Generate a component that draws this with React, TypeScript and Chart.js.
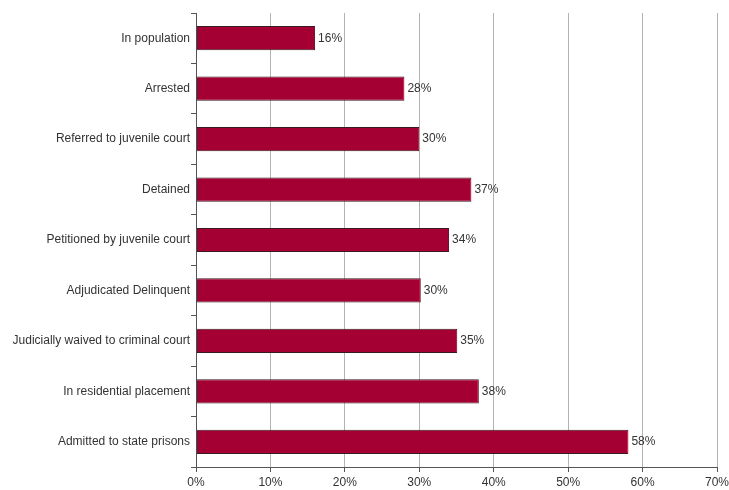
import React, { useEffect, useRef } from "react";
import { Chart, registerables } from "chart.js";

Chart.register(...registerables);

const categories = [
  "In population",
  "Arrested",
  "Referred to juvenile court",
  "Detained",
  "Petitioned by juvenile court",
  "Adjudicated Delinquent",
  "Judicially waived to criminal court",
  "In residential placement",
  "Admitted to state prisons",
];
const values = [16, 28, 30, 37, 34, 30.2, 35.1, 38, 58.1];
const valueLabels = ["16%", "28%", "30%", "37%", "34%", "30%", "35%", "38%", "58%"];

const FONT = "'Liberation Sans', Arial, sans-serif";

const labelPlugin = {
  id: "valueLabels",
  afterDatasetsDraw(chart: any) {
    const ctx = chart.ctx;
    const meta = chart.getDatasetMeta(0);
    ctx.save();
    ctx.font = "12px " + FONT;
    ctx.fillStyle = "#333333";
    ctx.textAlign = "left";
    ctx.textBaseline = "middle";
    meta.data.forEach((bar: any, i: number) => {
      ctx.fillText(valueLabels[i], bar.x + 3, bar.y);
    });
    ctx.restore();
  },
};

export default function App() {
  const ref = useRef<HTMLCanvasElement>(null);
  useEffect(() => {
    if (!ref.current) return;
    const chart = new Chart(ref.current, {
      type: "bar",
      data: {
        labels: categories,
        datasets: [
          {
            data: values,
            backgroundColor: "#A50034",
            borderColor: "#3a1a1f",
            borderWidth: 1,
            barPercentage: 0.48,
            categoryPercentage: 1,
          },
        ],
      },
      options: {
        indexAxis: "y",
        animation: false,
        responsive: false,
        maintainAspectRatio: false,
        layout: { padding: { top: 13, right: 0, left: 0, bottom: 0 } },
        plugins: { legend: { display: false }, tooltip: { enabled: false } },
        scales: {
          x: {
            min: 0,
            max: 70,
            ticks: {
              stepSize: 10,
              color: "#333333",
              font: { family: FONT, size: 12 },
              padding: 3,
              callback: (v: any) => v + "%",
            },
            grid: {
              color: "#b4b4b4",
              lineWidth: 1,
              tickLength: 5,
              drawTicks: true,
              tickColor: "#555555",
            },
            border: { color: "#555555", width: 1 },
            afterFit: (s: any) => {
              s.height = 23;
              s.paddingRight = 12;
              s.paddingLeft = 0;
            },
          },
          y: {
            ticks: {
              color: "#333333",
              font: { family: FONT, size: 12 },
              padding: 1,
            },
            grid: {
              offset: true,
              drawOnChartArea: false,
              tickLength: 5,
              tickColor: "#555555",
            },
            border: { color: "#555555", width: 1 },
            afterFit: (s: any) => {
              s.width = 196;
            },
          },
        },
      },
      plugins: [labelPlugin],
    });
    return () => chart.destroy();
  }, []);
  return (
    <div style={{ position: "fixed", left: 0, top: 0, width: 729, height: 490, background: "#fff" }}>
      <canvas ref={ref} width={729} height={490} style={{ width: 729, height: 490 }} />
    </div>
  );
}
